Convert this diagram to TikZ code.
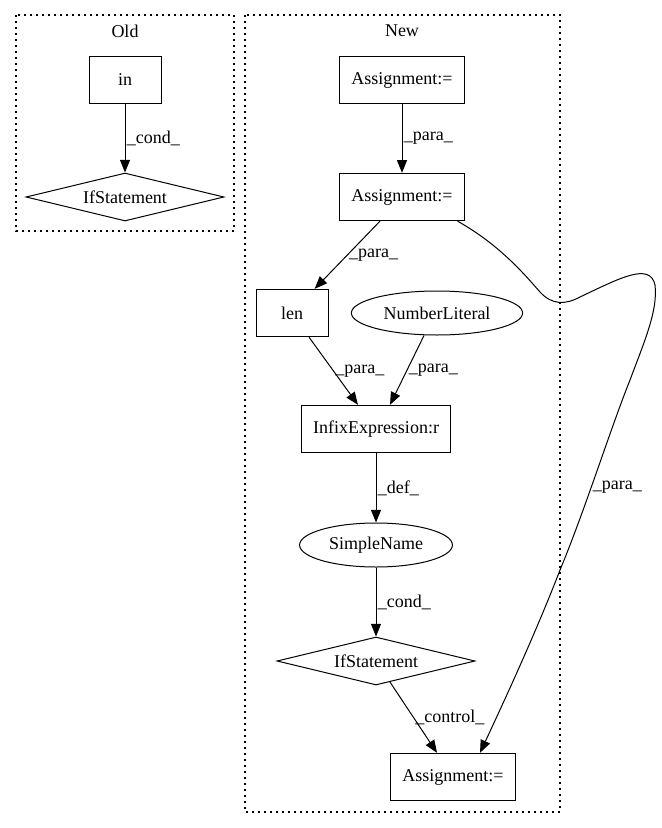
\documentclass[tikz,border=0pt]{standalone}
\usepackage{fontspec}
\setmainfont{Liberation Serif}
\usetikzlibrary{shapes.geometric,arrows.meta}
\begin{document}
\begin{tikzpicture}[x=0.75pt, y=-0.75pt, font=\fontsize{13.5}{16}\selectfont, line width=0.75pt]

  % Node styles
  \tikzstyle{rbox}=[rectangle, draw, minimum width=54pt, minimum height=35.5pt, inner xsep=8.6pt]
  \tikzstyle{oval}=[ellipse, draw, minimum height=33pt, inner xsep=5.3pt, inner ysep=0pt]
  \tikzstyle{cond}=[diamond, draw, minimum width=148.5pt, minimum height=36pt, inner sep=0pt, shape aspect=4]

  \tikzstyle{edge}=[-{Triangle[length=9.5pt, width=7.5pt]}]
  \tikzstyle{elabel}=[right, inner sep=1pt]
  \tikzstyle{cluster}=[draw, line width=1pt, dash pattern=on 1.2pt off 3.3pt]

  \useasboundingbox (0,0) rectangle (661,828);

  % Clusters
  \draw[cluster] (16,15) rectangle (234,231);
  \draw[cluster] (245,15) rectangle (560,812);
  \node (t_old) at (125,31) {Old};
  \node (t_new) at (402,31) {New};

  % Nodes
  \node[rbox] (o_in) at (125,80) {in};
  \node[cond] (o_if) at (125,197) {IfStatement};

  \node[rbox] (n_as1) at (402,80) {Assignment:=};
  \node[rbox] (n_as2) at (402,197) {Assignment:=};
  \node[rbox] (n_len) at (292,313) {len};
  \node[oval] (n_num) at (437,313) {NumberLiteral};
  \node[rbox] (n_infix) at (376,429) {InfixExpression:r};
  \node[oval] (n_sn) at (376,545) {SimpleName};
  \node[cond] (n_if) at (376,661) {IfStatement};
  \node[rbox] (n_as3) at (453,777) {Assignment:=};

  % Old links
  \draw[edge] (o_in) -- node[elabel] {\_cond\_} (o_if);

  % New links
  \draw[edge] (n_as1) -- node[elabel] {\_para\_} (n_as2);
  \draw[edge] ([xshift=-16.5pt]n_as2.south) -- node[elabel] {\_para\_} ([xshift=17pt]n_len.north);
  \draw[edge] ([xshift=12.75pt]n_len.south) -- node[elabel] {\_para\_} ([xshift=-13.5pt]n_infix.north);
  \draw[edge] ([xshift=-9.75pt]n_num.south) -- node[elabel] {\_para\_} ([xshift=10.5pt]n_infix.north);
  \draw[edge] (n_infix) -- node[elabel] {\_def\_} (n_sn);
  \draw[edge] (n_sn) -- node[elabel] {\_cond\_} (n_if);
  \draw[edge] (n_if) -- node[elabel] {\_control\_} ([xshift=-12pt]n_as3.north);

  % long para link
  \draw[edge] ([xshift=-5.25pt]n_as2.south east)
    .. controls (500,245) and (525,275) .. (540,292)
    .. controls (552,305) and (565,305) .. (580,297)
    .. controls (620,278) and (650,262) .. (655,285)
    .. controls (658,310) and (645,340) .. (630,380)
    .. controls (610,430) and (585,510) .. node[elabel, pos=0.58] {\_para\_} (560,570)
    .. controls (535,635) and (500,710) .. ([xshift=20.25pt]n_as3.north);

\end{tikzpicture}
\end{document}
